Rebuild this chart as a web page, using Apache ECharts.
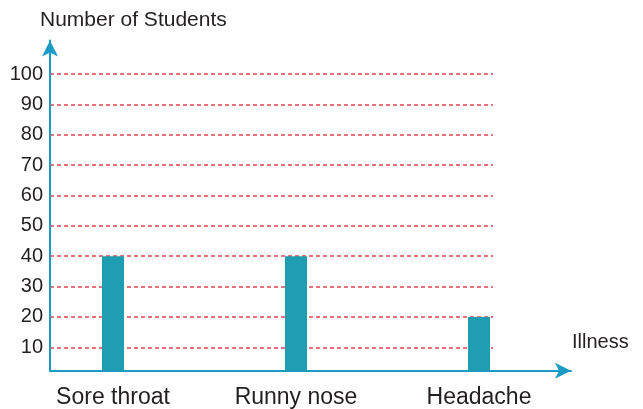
<!DOCTYPE html>
<html>
<head>
<meta charset="utf-8">
<script src="https://cdn.jsdelivr.net/npm/echarts@6/dist/echarts.min.js"></script>
<style>
html,body{margin:0;padding:0;background:#ffffff;}
#c{width:643px;height:409px;}
</style>
</head>
<body>
<div id="c"></div>
<script>
// ---- data ----
const categories = ['Sore throat', 'Runny nose', 'Headache'];
const students = [40, 40, 20];
const yTicks = [10, 20, 30, 40, 50, 60, 70, 80, 90, 100];
const yTitle = 'Number of Students';
const xTitle = 'Illness';

// ---- layout / style ----
const W = 643, H = 409;
const font = '"Liberation Sans", Arial, Helvetica, sans-serif';
const textColor = '#231f20';
const axisColor = '#1a9bc4';
const barColor = '#1f9db1';
const gridColor = '#e2434c';

const yMin = yTicks[0];
const yMax = yTicks[yTicks.length - 1];
const yStep = yTicks[1] - yTicks[0];

const topTickY = 74;       // pixel of top tick
const bottomTickY = 347.3; // pixel of bottom tick
const axisY = 370.7;       // pixel of x axis line
const axisX = 50;          // pixel of y axis line
const gridRightX = 493;    // end of dashed lines
const pxPerUnit = (bottomTickY - topTickY) / (yMax - yMin);
const baseValue = yMin - (axisY - bottomTickY) / pxPerUnit; // value at x-axis line

const bandLeft = 21.5, bandRight = 570.5;

const chart = echarts.init(document.getElementById('c'), null, {renderer: 'canvas'});

const option = {
  animation: false,
  backgroundColor: '#ffffff',
  title: [
    {text: yTitle, left: 40, top: 10, padding: 0,
     textStyle: {fontFamily: font, fontSize: 21, fontWeight: 'normal', color: textColor}},
    {text: xTitle, left: 572, top: 332, padding: 0,
     textStyle: {fontFamily: font, fontSize: 20, fontWeight: 'normal', color: textColor}}
  ],
  grid: [
    {left: axisX, right: W - gridRightX, top: topTickY, bottom: H - bottomTickY},
    {left: bandLeft, right: W - bandRight, top: topTickY, bottom: H - axisY},
    {left: axisX, right: W - 571, top: 40.5, bottom: H - axisY}
  ],
  xAxis: [
    {gridIndex: 0, type: 'category', data: categories, show: false},
    {gridIndex: 1, type: 'category', data: categories,
     axisLine: {show: false}, axisTick: {show: false},
     axisLabel: {interval: 0, margin: 15, fontFamily: font, fontSize: 23, color: textColor}},
    {gridIndex: 2, type: 'value', min: 0, max: 1,
     axisLine: {show: true, onZero: false, symbol: ['none', 'arrow'], symbolSize: [12, 16],
                lineStyle: {color: axisColor, width: 2}},
     axisTick: {show: false}, axisLabel: {show: false}, splitLine: {show: false}}
  ],
  yAxis: [
    {gridIndex: 0, type: 'value', min: yMin, max: yMax, interval: yStep,
     axisLine: {show: false}, axisTick: {show: false},
     axisLabel: {margin: 7, fontFamily: font, fontSize: 20, color: textColor},
     splitLine: {show: true, lineStyle: {color: gridColor, type: [4, 3], width: 1.5}}},
    {gridIndex: 1, type: 'value', min: baseValue, max: yMax, show: false},
    {gridIndex: 2, type: 'value', min: 0, max: 1,
     axisLine: {show: true, onZero: false, symbol: ['none', 'arrow'], symbolSize: [12, 16],
                lineStyle: {color: axisColor, width: 2}},
     axisTick: {show: false}, axisLabel: {show: false}, splitLine: {show: false}}
  ],
  series: [
    {type: 'bar', xAxisIndex: 1, yAxisIndex: 1, data: students, barWidth: 22, clip: true,
     itemStyle: {color: barColor}}
  ]
};
chart.setOption(option);
</script>
</body>
</html>
